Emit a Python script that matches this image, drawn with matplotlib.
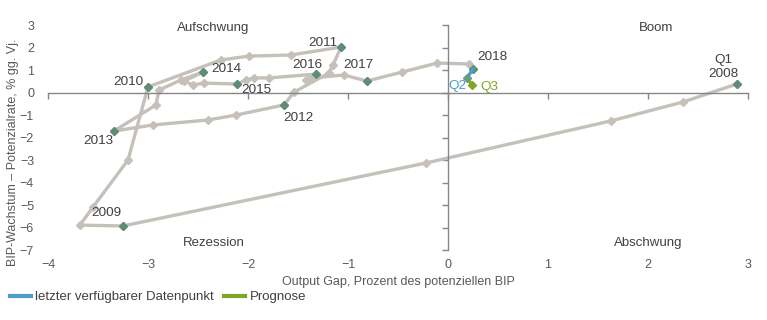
import matplotlib
matplotlib.use("Agg")
import matplotlib.pyplot as plt
from matplotlib.lines import Line2D

plt.rcParams["font.family"] = ["Liberation Sans", "DejaVu Sans"]

# quarterly path, 2008Q1 .. 2018Q1
quarters = [
    "2008Q1", "2008Q2", "2008Q3", "2008Q4",
    "2009Q1", "2009Q2", "2009Q3", "2009Q4",
    "2010Q1", "2010Q2", "2010Q3", "2010Q4",
    "2011Q1", "2011Q2", "2011Q3", "2011Q4",
    "2012Q1", "2012Q2", "2012Q3", "2012Q4",
    "2013Q1", "2013Q2", "2013Q3", "2013Q4",
    "2014Q1", "2014Q2", "2014Q3", "2014Q4",
    "2015Q1", "2015Q2", "2015Q3", "2015Q4",
    "2016Q1", "2016Q2", "2016Q3", "2016Q4",
    "2017Q1", "2017Q2", "2017Q3", "2017Q4",
    "2018Q1",
]
output_gap = [
    2.89, 2.35, 1.63, -0.22,
    -3.25, -3.68, -3.55, -3.20,
    -3.00, -2.27, -1.99, -1.57,
    -1.07, -1.15, -1.19, -1.54,
    -1.64, -2.12, -2.40, -2.95,
    -3.34, -2.92, -2.89, -2.67,
    -2.45, -2.64, -2.55, -2.44,
    -2.11, -2.02, -1.94, -1.79,
    -1.32, -1.42, -1.37, -1.04,
    -0.81, -0.46, -0.11, 0.21,
    0.25,
]
growth_gap = [
    0.40, -0.40, -1.24, -3.11,
    -5.91, -5.87, -5.07, -2.98,
    0.27, 1.47, 1.64, 1.69,
    2.04, 1.24, 0.89, 0.04,
    -0.53, -0.98, -1.20, -1.42,
    -1.69, -0.53, 0.13, 0.58,
    0.93, 0.53, 0.36, 0.44,
    0.40, 0.58, 0.67, 0.67,
    0.84, 0.58, 0.67, 0.80,
    0.53, 0.93, 1.33, 1.29,
    1.07,
]

# latest data point (2018Q2) and forecast (2018Q3)
latest_gap = [0.25, 0.19]
latest_growth = [1.07, 0.67]
forecast_gap = [0.19, 0.24]
forecast_growth = [0.67, 0.36]

# label offsets in pixels (dx, dy) for the yearly markers
year_offsets = {
    "2008Q1": (-14, 17), "2009Q1": (-17, 13), "2010Q1": (-20, 5),
    "2011Q1": (-18, 4), "2012Q1": (14, -13), "2013Q1": (-16, -10),
    "2014Q1": (23, 3), "2015Q1": (19, -6), "2016Q1": (-9, 9),
    "2017Q1": (-9, 16), "2018Q1": (19, 12),
}

GRAY = "#c5c0ba"
DKGREEN = "#5e8c78"
BLUE = "#4f9bc9"
GREEN = "#7fa626"
AXIS = "#868686"
TEXT = "#404040"
TICKTXT = "#595959"

fig = plt.figure(figsize=(7.67, 3.2), dpi=100)
ax = fig.add_axes([48 / 767, 1 - 250.5 / 320, 700 / 767, 225 / 320])

ax.plot(output_gap, growth_gap, color=GRAY, lw=2.4, marker="D", ms=3.8,
        mfc=GRAY, mec=GRAY, zorder=2, solid_capstyle="round")

q1_x = [x for q, x in zip(quarters, output_gap) if q.endswith("Q1")]
q1_y = [y for q, y in zip(quarters, growth_gap) if q.endswith("Q1")]
ax.plot(q1_x, q1_y, ls="none", marker="D", ms=4.3, color=DKGREEN, zorder=3)

ax.plot(latest_gap, latest_growth, color=BLUE, lw=2.4, zorder=4)
ax.plot(latest_gap[-1:], latest_growth[-1:], ls="none", marker="D", ms=4,
        color=BLUE, zorder=4)
ax.plot(forecast_gap, forecast_growth, color=GREEN, lw=2.4, zorder=4)
ax.plot(forecast_gap[-1:], forecast_growth[-1:], ls="none", marker="D", ms=4,
        color=GREEN, zorder=4)

for q, x, y in zip(quarters, output_gap, growth_gap):
    if q in year_offsets:
        label = q[:4]
        if q == "2008Q1":
            label = "Q1\n2008"
        ax.annotate(label, (x, y), xytext=year_offsets[q], textcoords="offset pixels",
                    ha="center", va="center", fontsize=9.7, color=TEXT,
                    linespacing=1.15)

ax.annotate("Q2", (latest_gap[-1], latest_growth[-1]), xytext=(-10, -8),
            textcoords="offset pixels", ha="center", va="center",
            fontsize=9.7, color=BLUE)
ax.annotate("Q3", (forecast_gap[-1], forecast_growth[-1]), xytext=(17, -2),
            textcoords="offset pixels", ha="center", va="center",
            fontsize=9.7, color=GREEN)

# quadrant names
ax.text(-2.35, 2.89, "Aufschwung", ha="center", va="center", fontsize=9.5, color=TEXT)
ax.text(2.08, 2.89, "Boom", ha="center", va="center", fontsize=9.5, color=TEXT)
ax.text(-2.34, -6.67, "Rezession", ha="center", va="center", fontsize=9.5, color=TEXT)
ax.text(2.0, -6.67, "Abschwung", ha="center", va="center", fontsize=9.5, color=TEXT)

ax.set_xlim(-4, 3)
ax.set_ylim(-7, 3)
ax.set_xticks(range(-4, 4))
ax.set_yticks(range(-7, 4))
ax.spines["top"].set_visible(False)
ax.spines["right"].set_visible(False)
ax.spines["bottom"].set_position(("data", 0))
ax.spines["left"].set_position(("data", 0))
for s in ("bottom", "left"):
    ax.spines[s].set_color(AXIS)
    ax.spines[s].set_linewidth(1.0)
ax.tick_params(direction="out", length=4, width=1, color=AXIS,
               labelbottom=False, labelleft=False)
ax.patch.set_visible(False)

# tick labels at the outer edges
secx = ax.secondary_xaxis(0)
secx.set_xticks(range(-4, 4))
secx.tick_params(length=0, pad=6, labelsize=9, labelcolor=TICKTXT)
for s in secx.spines.values():
    s.set_visible(False)
secy = ax.secondary_yaxis(0)
secy.set_yticks(range(-7, 4))
secy.tick_params(length=0, pad=10, labelsize=9, labelcolor=TICKTXT)
for s in secy.spines.values():
    s.set_visible(False)

fig.text(398 / 767, 1 - 282 / 320, "Output Gap, Prozent des potenziellen BIP",
         ha="center", va="center", fontsize=9, color=TICKTXT)
fig.text(13 / 767, 1 - 152 / 320, "BIP-Wachstum \u2013 Potenzialrate, % gg. Vj.",
         ha="center", va="center", rotation=90, fontsize=9, color=TICKTXT)

handles = [Line2D([], [], color=BLUE, lw=3), Line2D([], [], color=GREEN, lw=3)]
fig.legend(handles, ["letzter verfügbarer Datenpunkt", "Prognose"],
           loc="center left", bbox_to_anchor=(10 / 767, 1 - 297 / 320),
           ncol=2, frameon=False, fontsize=9.5, handlelength=1.6,
           handletextpad=0.3, columnspacing=0.8, borderpad=0, borderaxespad=0,
           labelcolor=TEXT)

fig.savefig("out.png", dpi=100)
